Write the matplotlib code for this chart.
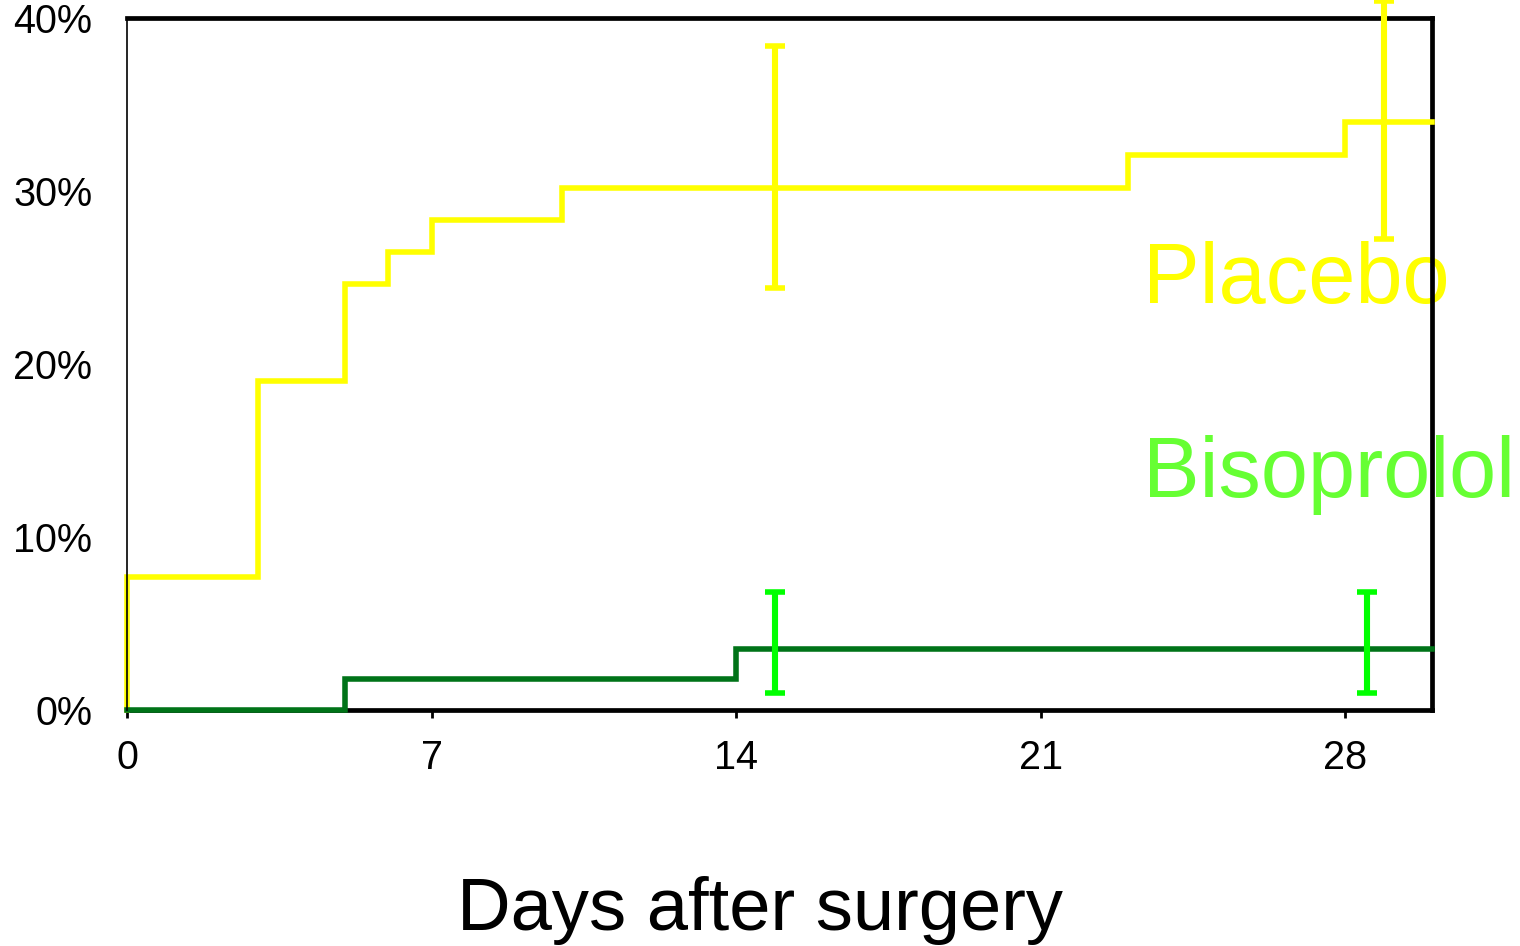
import matplotlib
matplotlib.use("Agg")
import matplotlib.pyplot as plt
import numpy as np

plt.rcParams["font.family"] = ["Liberation Sans", "DejaVu Sans"]

# cumulative event rate (%) by day after surgery
placebo_days = [0, 0, 3, 5, 6, 7, 10, 23, 28, 30]
placebo_rate = [0, 7.7, 19.0, 24.6, 26.5, 28.3, 30.2, 32.1, 34.0, 34.0]
bisoprolol_days = [0, 5, 14, 30]
bisoprolol_rate = [0, 1.8, 3.5, 3.5]

# confidence intervals at selected days
placebo_ci_days = [14.9, 28.9]
placebo_ci_mid = [31.4, 34.1]
placebo_ci_half = [7.0, 6.9]
bisoprolol_ci_days = [14.9, 28.5]
bisoprolol_ci_mid = [3.9, 3.9]
bisoprolol_ci_half = [2.9, 2.9]

x_ticks = [0, 7, 14, 21, 28]
y_ticks = [0, 10, 20, 30, 40]

YELLOW = "#ffff00"
DARK_GREEN = "#007318"
BRIGHT_GREEN = "#00ff00"
LABEL_GREEN = "#66ff33"

fig = plt.figure(figsize=(15.2, 9.46), dpi=100)
ax = fig.add_axes([0.0836, 0.2495, 0.8585, 0.7315])

ax.step(placebo_days, placebo_rate, where="post", color=YELLOW, lw=4,
        zorder=4, solid_joinstyle="miter", clip_on=False)
ax.step(bisoprolol_days, bisoprolol_rate, where="post", color=DARK_GREEN,
        lw=4, zorder=4, solid_joinstyle="miter", clip_on=False)

ax.errorbar(placebo_ci_days, placebo_ci_mid, yerr=placebo_ci_half, fmt="none",
            ecolor=YELLOW, elinewidth=4.4, capsize=7.2, capthick=4,
            zorder=5, clip_on=False)
ax.errorbar(bisoprolol_ci_days, bisoprolol_ci_mid, yerr=bisoprolol_ci_half,
            fmt="none", ecolor=BRIGHT_GREEN, elinewidth=4.4, capsize=7.2,
            capthick=4, zorder=5, clip_on=False)

ax.text(23.36, 23.5, "Placebo", color=YELLOW, fontsize=61, zorder=1,
        clip_on=False)
ax.text(23.36, 12.3, "Bisoprolol", color=LABEL_GREEN, fontsize=61, zorder=1,
        clip_on=False)

ax.set_xlim(0, 30)
ax.set_ylim(0, 40)
ax.set_xticks(x_ticks)
ax.set_xticklabels([str(t) for t in x_ticks])
ax.set_yticks(y_ticks)
ax.set_yticklabels([f"{t}%" for t in y_ticks])
ax.tick_params(axis="x", direction="out", length=6, width=2, pad=15,
               labelsize=28.5)
ax.tick_params(axis="y", length=0, pad=25, labelsize=28.5)

for side in ["top", "right", "bottom"]:
    ax.spines[side].set_linewidth(3.4)
    ax.spines[side].set_color("black")
ax.spines["left"].set_linewidth(1.2)
ax.spines["left"].set_zorder(6)

fig.text(760 / 1520, (946 - 930) / 946, "Days after surgery", ha="center",
         va="baseline", fontsize=53.5)

fig.savefig("out.png", dpi=100)
